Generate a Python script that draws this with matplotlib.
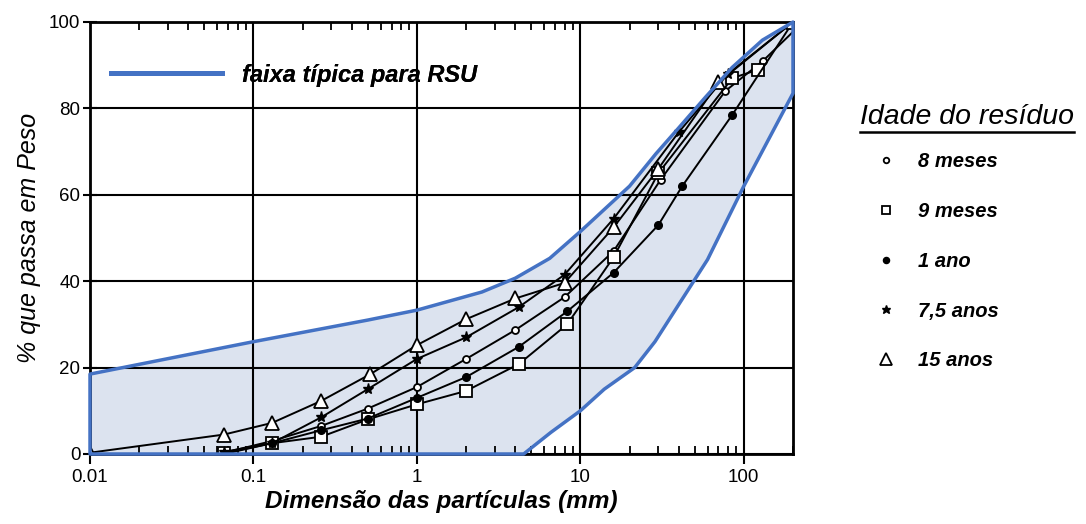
import matplotlib
matplotlib.use("Agg")
import matplotlib.pyplot as plt
from matplotlib.lines import Line2D
from matplotlib.ticker import LogLocator, NullFormatter
import numpy as np

plt.rcParams['font.family'] = ['Liberation Sans', 'DejaVu Sans']

# ---- data ----
band_upper_x = [0.01, 0.1, 0.5, 1, 2.5, 4, 6.5, 10, 20, 29, 40, 58, 85, 130, 200]
band_upper_y = [18.5, 26, 31, 33.3, 37.5, 40.7, 45.3, 51.5, 62, 69.5, 75.5, 82.5, 89.5, 95.8, 100]
band_lower_x = [0.01, 4.5, 6.6, 10, 14, 21.5, 28.6, 60, 100, 200]
band_lower_y = [0, 0, 5, 10, 15, 20, 26, 45, 62, 83.5]

x_8m = [0.066, 0.13, 0.26, 0.5, 1, 2, 4, 8, 16, 31, 77, 131, 210]
y_8m = [0.3, 3, 6.5, 10.5, 15.5, 22, 28.7, 36.3, 47, 63.5, 84, 91, 98.5]
x_9m = [0.066, 0.13, 0.26, 0.5, 1, 2, 4.2, 8.3, 16, 30, 85, 123]
y_9m = [0.2, 2.5, 4, 8, 11.5, 14.6, 20.8, 30, 45.6, 65, 87, 89]
x_1a = [0.066, 0.13, 0.26, 0.5, 1, 2, 4.2, 8.3, 16, 30, 42, 85, 200]
y_1a = [0.0, 2.5, 5.5, 8.2, 13, 17.8, 24.8, 33, 42, 53, 62, 78.5, 100]
x_75a = [0.066, 0.13, 0.26, 0.5, 1, 2, 4.2, 8, 16, 40, 80, 200]
y_75a = [0.5, 2.5, 8.5, 15, 22, 27, 34, 41.5, 54.5, 74.5, 88, 100]
x_15a = [0.01, 0.066, 0.13, 0.26, 0.52, 1, 2, 4, 8, 16, 30, 70, 200]
y_15a = [0.3, 4.5, 7.2, 12.3, 18.5, 25.2, 31.2, 36, 39.6, 52.5, 66, 86, 100]

series = [
    ("8 meses", x_8m, y_8m, dict(marker='o', ms=5, mfc='white', mec='black', mew=1.3)),
    ("9 meses", x_9m, y_9m, dict(marker='s', ms=8, mfc='white', mec='black', mew=1.3)),
    ("1 ano", x_1a, y_1a, dict(marker='o', ms=5.5, mfc='black', mec='black')),
    ("7,5 anos", x_75a, y_75a, dict(marker='*', ms=8, mfc='black', mec='black')),
    ("15 anos", x_15a, y_15a, dict(marker='^', ms=10.5, mfc='white', mec='black', mew=1.3)),
]

x_ticks = [0.01, 0.1, 1, 10, 100]
x_ticklabels = ["0.01", "0.1", "1", "10", "100"]
y_ticks = [0, 20, 40, 60, 80, 100]
y_ticklabels = ["0", "20", "40", "60", "80", "100"]

band_fill = '#dce3ef'
band_edge = '#4472c4'

fig = plt.figure(figsize=(10.86, 5.24), dpi=100)
ax = fig.add_axes([90/1086, 70/524, 703/1086, 432/524])
ax.set_xscale('log')
ax.set_xlim(0.01, 200)
ax.set_ylim(0, 100)

# band polygon
poly_x = band_upper_x + band_lower_x[::-1]
poly_y = band_upper_y + band_lower_y[::-1]
ax.fill(poly_x, poly_y, facecolor=band_fill, edgecolor='none', zorder=0)
ax.fill(poly_x, poly_y, facecolor='none', edgecolor=band_edge, lw=2.5,
        zorder=5, clip_on=False, joinstyle='round')

for label, xs, ys, st in series:
    ax.plot(xs, ys, color='black', lw=1.4, zorder=3, **st)

# grid & ticks
ax.set_xticks(x_ticks)
ax.set_xticklabels(x_ticklabels)
ax.xaxis.set_minor_locator(LogLocator(base=10, subs=np.arange(2, 10)))
ax.xaxis.set_minor_formatter(NullFormatter())
ax.set_yticks(y_ticks)
ax.set_yticklabels(y_ticklabels)
ax.grid(True, which='major', color='black', lw=1.5)
ax.set_axisbelow(False)
ax.tick_params(axis='x', which='major', direction='out', length=7, width=1.5,
               labelsize=13.5, pad=4)
ax.tick_params(axis='x', which='minor', direction='in', length=6, width=1.3,
               top=True, bottom=True)
ax.tick_params(axis='y', which='major', direction='inout', length=10, width=1.5,
               labelsize=13.5, pad=2)
for s in ax.spines.values():
    s.set_linewidth(2)

ax.set_xlabel("Dimensão das partículas (mm)", fontsize=17.5, fontweight='bold',
              fontstyle='italic', labelpad=3)
ax.set_ylabel("% que passa em Peso", fontsize=18, fontstyle='italic', labelpad=6)

# band legend
band_handle = Line2D([], [], color=band_edge, lw=3.5)
leg1 = ax.legend([band_handle], ["faixa típica para RSU"], loc='center left',
                 bbox_to_anchor=(0.03, 0.877), frameon=False, borderpad=0,
                 borderaxespad=0, handlelength=4.7, handletextpad=0.85,
                 prop=dict(size=17, weight='bold', style='italic'))
ax.add_artist(leg1)

# series legend (outside)
handles = [Line2D([], [], linestyle='none', **st) for _, _, _, st in series]
labels = [s[0] for s in series]
for h, (_, _, _, st) in zip(handles, series):
    h.set_markersize(st['ms'] * 0.8)
leg2 = fig.legend(handles, labels, loc='upper left', bbox_to_anchor=(0.797, 0.729),
                  frameon=False, borderpad=0, handlelength=1.0, handletextpad=1.1,
                  labelspacing=1.53, prop=dict(size=14.5, weight='bold', style='italic'))

title = fig.text(0.792, 0.776, "Idade do resíduo", fontsize=20.5, fontstyle='italic',
                 va='center', ha='left')
fig.canvas.draw()
bb = title.get_window_extent().transformed(fig.transFigure.inverted())
fig.add_artist(Line2D([bb.x0, bb.x1], [bb.y0 - 0.003, bb.y0 - 0.003],
                      color='black', lw=1.8, transform=fig.transFigure))

fig.savefig("out.png", dpi=100)
